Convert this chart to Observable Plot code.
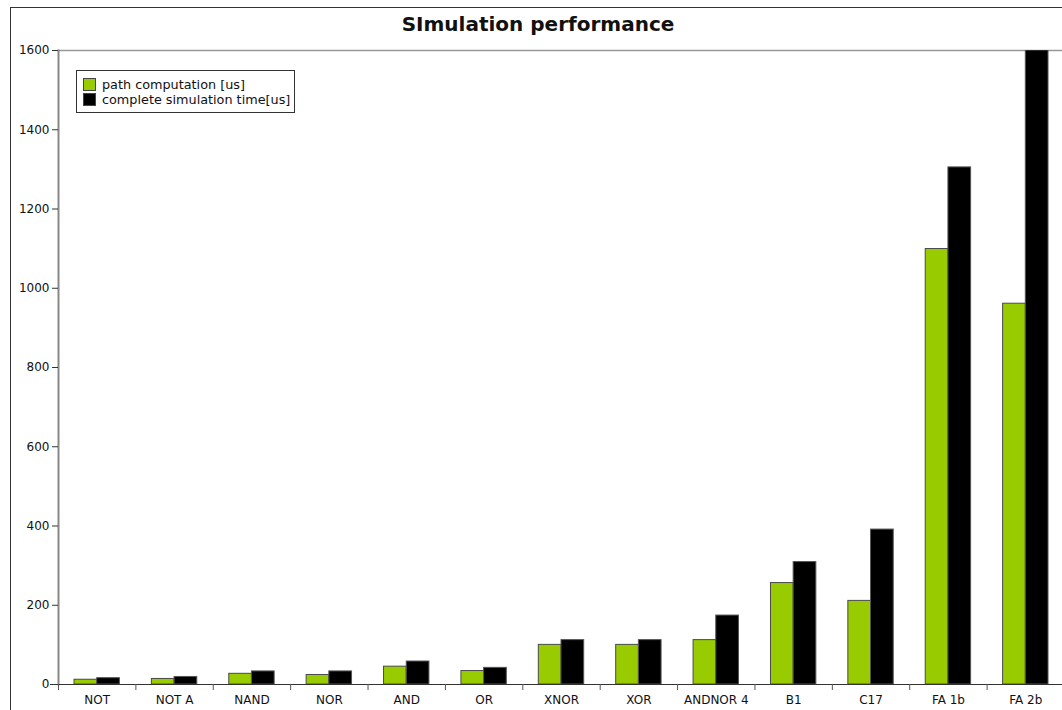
<!DOCTYPE html>
<html>
<head>
<meta charset="utf-8">
<script src="https://cdn.jsdelivr.net/npm/d3@7"></script>
<script src="https://cdn.jsdelivr.net/npm/@observablehq/plot@0.6"></script>
<style>
  html, body { margin: 0; padding: 0; background: #fff; overflow: hidden; }
  #wrap { position: relative; width: 1062px; height: 710px; overflow: hidden; font-family: "DejaVu Sans", sans-serif; }
  #outer { position: absolute; left: 10px; top: 7px; width: 2000px; height: 2000px; border-left: 1px solid #333; border-top: 1px solid #333; box-sizing: border-box; pointer-events: none; }
  #title { position: absolute; left: 0; top: 12px; width: 1076px; text-align: center; font-size: 20px; font-weight: bold; color: #111; line-height: 24px; }
  #legend { position: absolute; left: 76px; top: 70px; width: 219px; height: 43px; border: 1px solid #333; background: #fff; box-sizing: border-box; font-size: 12.8px; color: #111; }
  .row { position: absolute; left: 6px; height: 14px; line-height: 14px; white-space: nowrap; }
  .sw { display: inline-block; width: 13px; height: 13px; border: 1px solid #444; box-sizing: border-box; vertical-align: top; margin-top: 0px; margin-right: 6px; }
  #plot { position: absolute; left: 0; top: 0; }
  #plot svg { max-width: none !important; }
</style>
</head>
<body>
<div id="wrap">
  <div id="plot"></div>
  <div id="outer"></div>
  <div id="title">SImulation performance</div>
  <div id="legend"></div>
</div>
<script>
const categories = ["NOT", "NOT A", "NAND", "NOR", "AND", "OR", "XNOR", "XOR", "ANDNOR 4", "B1", "C17", "FA 1b", "FA 2b"];
const pathComputation = [12, 14, 27, 24, 45, 34, 100, 100, 112, 256, 211, 1099, 961];
const completeSimulation = [16, 19, 33, 33, 58, 42, 112, 112, 174, 309, 391, 1305, 1600];
const seriesNames = ["path computation [us]", "complete simulation time[us]"];
const seriesColors = ["#99cc00", "#000000"];
const yTicks = [0, 200, 400, 600, 800, 1000, 1200, 1400, 1600];

const W = 1064, H = 710, ML = 58, MR = 0, MT = 50, MB = 26;
const step = (W - ML - MR) / categories.length;
const pad = 16;
const barW = (step - 2 * pad) / 2;

const rows = categories.map((c, i) => ({cat: c, path: pathComputation[i], complete: completeSimulation[i]}));

const chart = Plot.plot({
  width: W, height: H,
  marginLeft: ML, marginRight: MR, marginTop: MT, marginBottom: MB,
  style: {fontFamily: "DejaVu Sans, sans-serif", fontSize: "12px", color: "#111", background: "transparent", overflow: "visible", maxWidth: "none"},
  x: {domain: categories, padding: 0, round: false, label: null},
  y: {domain: [0, 1600], label: null},
  marks: [
    Plot.ruleY([1600], {stroke: "#999", strokeWidth: 1.5}),
    Plot.barY(rows, {x: "cat", y: "path", fill: seriesColors[0], stroke: "#4a4a4a", strokeWidth: 1, insetLeft: pad, insetRight: step - pad - barW}),
    Plot.barY(rows, {x: "cat", y: "complete", fill: seriesColors[1], stroke: "#555", strokeWidth: 1, insetLeft: pad + barW, insetRight: pad, clip: true}),
    Plot.frame({anchor: "left", stroke: "#888", strokeWidth: 2}),
    Plot.ruleY([0], {stroke: "#333", strokeWidth: 1.2, insetLeft: -8}),
    Plot.ruleX(categories, {x: d => d, y1: 0, y2: 0, insetBottom: -6, dx: -step / 2, stroke: "#555"}),
    Plot.axisY({ticks: yTicks, tickSize: 6, tickPadding: 3, tickFormat: d => String(d), label: null, stroke: "#333"}),
    Plot.axisX({tickSize: 0, tickPadding: 11, label: null})
  ]
});
document.getElementById("plot").appendChild(chart);

const legend = document.getElementById("legend");
seriesNames.forEach((name, i) => {
  const r = document.createElement("div");
  r.className = "row";
  r.style.top = (7 + i * 15) + "px";
  const s = document.createElement("span");
  s.className = "sw";
  s.style.background = seriesColors[i];
  r.appendChild(s);
  r.appendChild(document.createTextNode(name));
  legend.appendChild(r);
});
</script>
</body>
</html>
